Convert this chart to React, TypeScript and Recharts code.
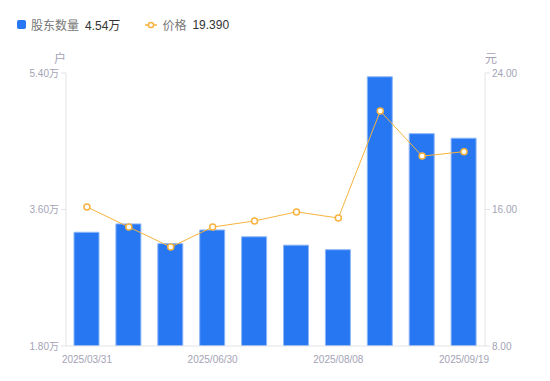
import { Bar, ComposedChart, Line, XAxis, YAxis } from "recharts";

const dates = [
  "2025/03/31",
  "2025/04/30",
  "2025/05/30",
  "2025/06/30",
  "2025/07/10",
  "2025/07/31",
  "2025/08/08",
  "2025/08/29",
  "2025/09/10",
  "2025/09/19",
];
const holders = [3.3, 3.41, 3.15, 3.33, 3.24, 3.13, 3.07, 5.35, 4.6, 4.54];
const prices = [16.15, 14.97, 13.8, 14.97, 15.33, 15.86, 15.5, 21.77, 19.13, 19.39];
const holderTicks = [1.8, 3.6, 5.4];
const priceTicks = [8, 16, 24];
const shownDates = ["2025/03/31", "2025/06/30", "2025/08/08", "2025/09/19"];

const rows = dates.map((date, i) => ({ date, holders: holders[i], price: prices[i] }));

const font = "Arial, 'Liberation Sans', 'Noto Sans CJK SC', sans-serif";
const tickStyle = { fill: "#a3a3b5", fontSize: 10, fontFamily: font };
const axisColor = "#e3e3e8";

export default function App() {
  return (
    <div style={{ position: "fixed", left: 0, top: 0, width: 550, height: 381, background: "#fff", fontFamily: font }}>
      <div style={{ position: "absolute", left: 17, top: 16, display: "flex", alignItems: "center", fontSize: 12 }}>
        <span style={{ width: 9, height: 9, borderRadius: 2, background: "#2777f2", marginRight: 5 }} />
        <span style={{ color: "#777" }}>股东数量</span>
        <span style={{ color: "#333", marginLeft: 6 }}>4.54万</span>
        <svg width={12} height={8} style={{ marginLeft: 25, marginRight: 5 }}>
          <line x1={0} y1={4} x2={12} y2={4} stroke="#f7b33e" strokeWidth={1.5} />
          <circle cx={6} cy={4} r={2.6} fill="#fff" stroke="#f7b33e" strokeWidth={1.5} />
        </svg>
        <span style={{ color: "#777" }}>价格</span>
        <span style={{ color: "#333", marginLeft: 6 }}>19.390</span>
      </div>
      <div style={{ position: "absolute", left: 54, top: 49, fontSize: 12, color: "#a3a3b5" }}>户</div>
      <div style={{ position: "absolute", left: 485, top: 49, fontSize: 12, color: "#a3a3b5" }}>元</div>
      <ComposedChart width={550} height={381} data={rows} margin={{ top: 73, right: 0, bottom: 15, left: 0 }}>
        <XAxis
          dataKey="date"
          ticks={shownDates}
          interval={0}
          tickLine={false}
          axisLine={{ stroke: axisColor }}
          tick={tickStyle}
          tickMargin={4}
          height={20}
        />
        <YAxis
          yAxisId="h"
          orientation="left"
          width={66}
          domain={[1.8, 5.4]}
          ticks={holderTicks}
          tickFormatter={(v: number) => `${v.toFixed(2)}万`}
          tick={tickStyle}
          tickSize={5}
          tickLine={{ stroke: axisColor }}
          axisLine={{ stroke: axisColor }}
          allowDataOverflow
        />
        <YAxis
          yAxisId="p"
          orientation="right"
          width={65}
          domain={[8, 24]}
          ticks={priceTicks}
          tickFormatter={(v: number) => v.toFixed(2)}
          tick={tickStyle}
          tickSize={5}
          tickLine={{ stroke: axisColor }}
          axisLine={{ stroke: axisColor }}
        />
        <Bar yAxisId="h" dataKey="holders" barSize={25} fill="#2777f2" stroke="#8db7f7" strokeWidth={1} isAnimationActive={false} />
        <Line
          yAxisId="p"
          dataKey="price"
          stroke="#f7b33e"
          strokeWidth={1}
          dot={{ r: 3, fill: "#fff", stroke: "#f7b33e", strokeWidth: 1.5 }}
          isAnimationActive={false}
        />
      </ComposedChart>
    </div>
  );
}
